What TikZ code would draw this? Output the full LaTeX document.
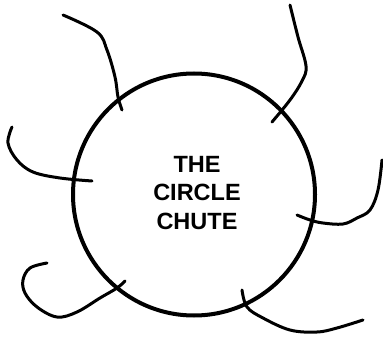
\documentclass[tikz,border=0pt]{standalone}
\usepackage{fontspec}
\setmainfont{Liberation Sans}
\begin{document}
\begin{tikzpicture}[x=1pt,y=-1pt,
  rim/.style={draw=black,line width=4pt,circle,minimum size=242pt,inner sep=0pt},
  wire/.style={draw=black,line width=3pt,line cap=round,line join=round},
  label/.style={font=\bfseries\fontsize{23.5}{28.5}\selectfont,align=center,inner sep=0pt}]
\useasboundingbox (0,0) rectangle (383,337);
\node[rim] (chute) at (194,194.5) {};
\node[label] (title) at (197,193) {THE\\CIRCLE\\CHUTE};
% top-left
\draw[wire] plot[smooth,tension=0.6] coordinates {(63,15) (97,32) (107,50) (115,77) (118,97) (122,110)};
% top-right
\draw[wire] plot[smooth,tension=0.6] coordinates {(290,5) (298,37) (306,66) (302,81) (290,100) (272,122)};
% left
\draw[wire] plot[smooth,tension=0.6] coordinates {(12,127) (8,143) (17,160) (33,172) (60,178) (92,181)};
% right
\draw[wire] plot[smooth,tension=0.6] coordinates {(382,160) (378,190) (370,210) (357,218) (343,224) (323,223) (310,220) (297,215)};
% bottom-right
\draw[wire] plot[smooth,tension=0.6] coordinates {(242,290) (247,307) (263,318) (290,330) (317,332) (337,328) (363,320)};
% bottom-left
\draw[wire] plot[smooth,tension=0.6] coordinates {(47,263) (30,268) (23,280) (25,293) (37,307) (57,317) (77,312) (100,298) (117,288) (125,281)};
\end{tikzpicture}
\end{document}
